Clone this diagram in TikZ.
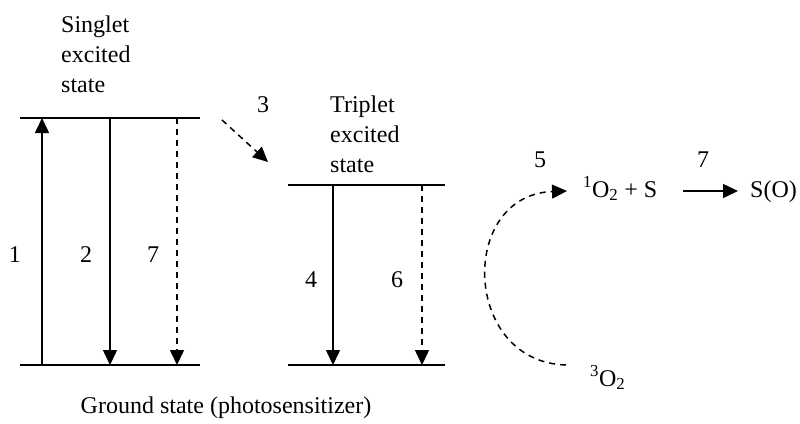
\documentclass[tikz,border=0pt]{standalone}
\usepackage{fontspec}
\setmainfont{Liberation Serif}
\usetikzlibrary{arrows.meta,positioning}

\begin{document}
\begin{tikzpicture}[
			x=1pt, y=-1pt,
			lvl/.style={line width=1.6pt},
			earr/.style={line width=1.5pt, -{Triangle[width=14pt,length=15pt]}},
			darr/.style={earr, dash pattern=on 6pt off 5pt},
			lbl/.style={inner sep=0pt, font=\fontsize{24}{30}\selectfont},
			txt/.style={lbl, align=left}
		]
			\useasboundingbox (0,0) rectangle (800,423);
			% energy levels
			\coordinate (S1) at (20,118);  \coordinate (S2) at (200,118);
			\coordinate (G1) at (20,365);  \coordinate (G2) at (200,365);
			\coordinate (T1) at (288,185); \coordinate (T2) at (445,185);
			\coordinate (H1) at (288,365); \coordinate (H2) at (445,365);
			\draw[lvl] (S1) -- (S2);
			\draw[lvl] (G1) -- (G2);
			\draw[lvl] (T1) -- (T2);
			\draw[lvl] (H1) -- (H2);
			\node[txt, anchor=north west] (sing) at (61,15.6) {Singlet\\excited\\state};
			\node[txt, anchor=north west] (trip) at (330,95.6) {Triplet\\excited\\state};
			\node[lbl, anchor=base] (gnd) at (226,413) {Ground state (photosensitizer)};
			% transitions
			\coordinate (a1) at (42,365);
			\coordinate (a2) at (110,118);
			\coordinate (a7) at (177,118);
			\coordinate (a4) at (333,185);
			\coordinate (a6) at (422,185);
			\draw[earr] (a1) -- (a1 |- S1);
			\draw[earr] (a2) -- (a2 |- G1);
			\draw[darr] (a7) -- (a7 |- G1);
			\draw[earr] (a4) -- (a4 |- H1);
			\draw[darr] (a6) -- (a6 |- H1);
			\node[lbl] (n1) at (15,255) {1};
			\node[lbl] (n2) at (86,255) {2};
			\node[lbl] (n7) at (153,255) {7};
			\node[lbl] (n4) at (311,280) {4};
			\node[lbl] (n6) at (397,280) {6};
			% intersystem crossing
			\coordinate (isc1) at (222,120);
			\coordinate (isc2) at (268,162);
			\draw[darr] (isc1) -- (isc2);
			\node[lbl] (n3) at (263,105) {3};
			% oxygen
			\node[lbl, anchor=base west] (o3) at (590,386) {\textsuperscript{3}O\textsubscript{2}};
			\node[lbl, anchor=base west] (o1) at (583,197) {\textsuperscript{1}O\textsubscript{2} + S};
			\node[lbl, anchor=base west] (so) at (750,197) {S(O)};
			\coordinate (q0) at (566,365);
			\coordinate (q1) at (567,191);
			\draw[darr] (q0) .. controls (462,362) and (458,195) .. (q1);
			\node[lbl] (n5) at (540,160) {5};
			\coordinate (p0) at (683,191);
			\coordinate (p1) at (738,191);
			\draw[earr] (p0) -- (p1);
			\node[lbl] (n7b) at (703,160) {7};
		\end{tikzpicture}
\end{document}
